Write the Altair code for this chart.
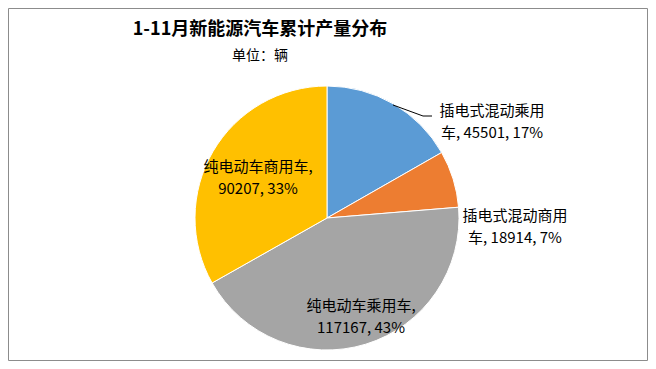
import altair as alt
import pandas as pd

# ---- data ----
categories = ["插电式混动乘用车", "插电式混动商用车", "纯电动车乘用车", "纯电动车商用车"]
values = [45501, 18914, 117167, 90207]
percents = ["17%", "7%", "43%", "33%"]
colors = ["#5B9BD5", "#ED7D31", "#A5A5A5", "#FFC000"]
title_text = "1-11月新能源汽车累计产量分布"
subtitle_text = "单位：辆"

# ---- layout (chart pixel coordinates) ----
W, H = 640, 353
CX, CY, R = 319, 210, 132
label_break = [7, 7, 8, 8]
label_x = [484, 507, 353, 250]
label_y = [103, 208, 298, 159]
line_gap = 22
FONT = "Noto Sans CJK SC"

df = pd.DataFrame({"category": categories, "value": values, "idx": range(len(categories))})

pie = alt.Chart(df).mark_arc(radius=R, stroke="white", strokeWidth=1).encode(
    theta=alt.Theta("value:Q", stack=True),
    color=alt.Color("category:N", scale=alt.Scale(domain=categories, range=colors), legend=None),
    order=alt.Order("idx:Q"),
    x=alt.value(CX),
    y=alt.value(CY),
)

rows = []
for i, (c, v, p) in enumerate(zip(categories, values, percents)):
    full = f"{c}, {v}, {p}"
    b = label_break[i]
    lines = [full[:b].strip(), full[b:].strip()]
    for j, t in enumerate(lines):
        rows.append({"t": t, "px": label_x[i], "py": label_y[i] + j * line_gap})
ldf = pd.DataFrame(rows)

labels = alt.Chart(ldf).mark_text(font=FONT, fontSize=15, color="#000000", align="center", baseline="middle").encode(
    x=alt.X("px:Q", scale=None, axis=None),
    y=alt.Y("py:Q", scale=None, axis=None),
    text="t:N",
)

leader = pd.DataFrame({"x": [385, 415], "y": [97, 108], "x2": [415, 424], "y2": [108, 108]})
lead = alt.Chart(leader).mark_rule(color="#000000", strokeWidth=1).encode(
    x=alt.X("x:Q", scale=None, axis=None), y=alt.Y("y:Q", scale=None, axis=None),
    x2="x2:Q", y2="y2:Q",
)

tdf = pd.DataFrame({"t": [title_text, subtitle_text], "px": [252, 252], "py": [22, 48]})
titles = alt.Chart(tdf.iloc[[0]]).mark_text(font=FONT, fontSize=18, fontWeight="bold", color="#000000",
                                             align="center", baseline="middle").encode(
    x=alt.X("px:Q", scale=None, axis=None), y=alt.Y("py:Q", scale=None, axis=None), text="t:N")
subs = alt.Chart(tdf.iloc[[1]]).mark_text(font=FONT, fontSize=14, color="#000000",
                                           align="center", baseline="middle").encode(
    x=alt.X("px:Q", scale=None, axis=None), y=alt.Y("py:Q", scale=None, axis=None), text="t:N")

border = alt.Chart(pd.DataFrame({"a": [0]})).mark_rect(fill="white", stroke="#8c8c8c", strokeWidth=1).encode(
    x=alt.value(0.5), x2=alt.value(W - 0.5), y=alt.value(0.5), y2=alt.value(H - 0.5))

chart = alt.layer(border, pie, lead, labels, titles, subs).properties(
    width=W, height=H, autosize=alt.AutoSizeParams(type="none"), padding=0,
    background="white",
).configure_view(stroke=None)

chart.save("out.html", embed_options={"renderer": "svg", "actions": False})
